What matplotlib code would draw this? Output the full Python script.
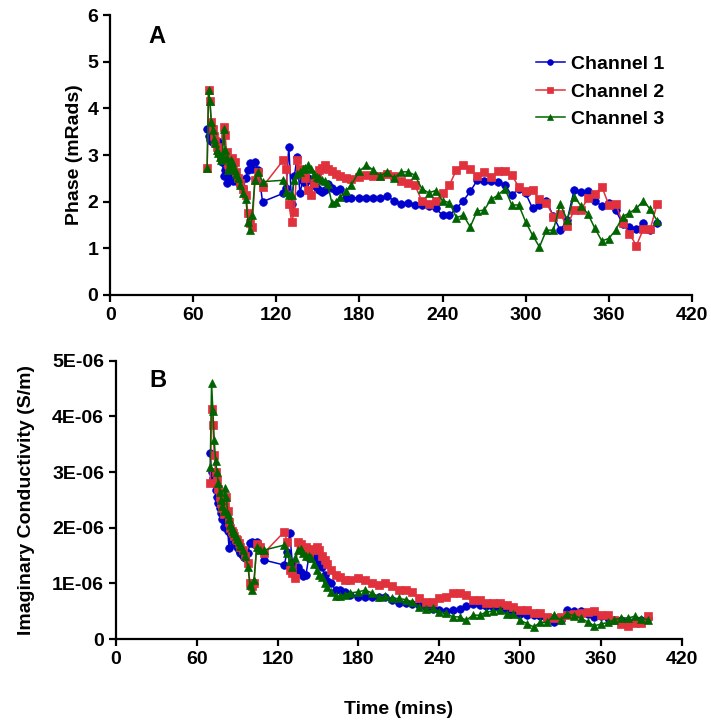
import matplotlib
matplotlib.use('Agg')
import matplotlib.pyplot as plt
import numpy as np
from matplotlib.ticker import FuncFormatter

plt.rcParams['font.family'] = ['Liberation Sans', 'DejaVu Sans']
plt.rcParams['font.weight'] = 'bold'

# sample times (mins): early burst, mid section, then every ~5 min
time_early = [70, 71, 72, 73, 74, 75, 76, 77, 78, 79, 80, 81, 82, 83, 84, 85,
              86, 87, 88, 89, 90, 91, 92, 94, 96, 98, 99.5, 101, 102.5, 104.5, 107, 110]
time_mid = [125, 127, 129, 131, 133, 135, 137, 139, 141, 143, 145, 147, 149, 151,
            153, 155, 157, 160, 163, 166, 170, 174]
time_late = [180, 185, 190, 195, 200, 205, 210, 215, 220, 225, 230, 235, 240, 245,
             250, 255, 260, 265, 270, 275, 280, 285, 290, 295, 300, 305, 310, 315,
             320, 325, 330, 335, 340, 345, 350, 355, 360, 365, 370, 375, 380, 385,
             390, 395]
time_min = time_early + time_mid + time_late

# Panel A: phase (mRads)
phase_ch1 = [3.55, 3.40, 3.32, 3.30, 3.28, 3.25, 3.28, 3.20, 3.05, 3.28, 2.95, 2.85,
             2.55, 2.68, 2.40, 2.68, 2.46, 2.55, 2.50, 2.45, 2.50, 2.50, 2.42, 2.39,
             2.30, 2.50, 2.68, 2.82, 2.70, 2.85, 2.68, 2.00,
             2.18, 2.30, 3.18, 1.96, 2.55, 2.96, 2.18, 2.45, 2.40, 2.50, 2.46, 2.35,
             2.30, 2.25, 2.21, 2.25, 2.39, 2.30, 2.23, 2.27, 2.07, 2.08,
             2.09, 2.09, 2.09, 2.09, 2.12, 2.02, 1.96, 1.98, 1.93, 1.93, 1.90, 1.86,
             1.71, 1.71, 1.86, 2.02, 2.22, 2.46, 2.44, 2.44, 2.43, 2.36, 2.14, 2.28,
             2.18, 1.86, 1.94, 2.02, 1.69, 1.39, 1.60, 2.25, 2.20, 2.22, 2.02, 1.91,
             1.98, 1.82, 1.53, 1.45, 1.41, 1.55, 1.39, 1.55]
phase_ch2 = [2.73, 4.39, 4.16, 3.71, 3.55, 3.40, 3.30, 3.18, 3.10, 3.07, 2.96, 3.05,
             3.60, 3.44, 3.07, 2.80, 2.71, 2.89, 2.93, 2.80, 2.85, 2.64, 2.50, 2.40,
             2.28, 2.14, 1.75, 1.54, 1.45, 2.46, 2.64, 2.32,
             2.89, 2.71, 1.96, 1.57, 1.78, 2.89, 2.70, 2.60, 2.50, 2.25, 2.14, 2.40,
             2.55, 2.68, 2.72, 2.78, 2.70, 2.65, 2.60, 2.55, 2.50, 2.48,
             2.53, 2.57, 2.55, 2.55, 2.60, 2.55, 2.45, 2.41, 2.36, 2.02, 1.96, 2.02,
             2.18, 2.36, 2.68, 2.78, 2.70, 2.55, 2.64, 2.52, 2.66, 2.66, 2.57, 2.32,
             2.22, 2.25, 2.05, 1.98, 1.68, 1.73, 1.48, 1.82, 1.83, 2.07, 2.16, 2.32,
             1.94, 1.96, 1.55, 1.31, 1.06, 1.41, 1.41, 1.96]
phase_ch3 = [2.73, 4.39, 4.16, 3.71, 3.53, 3.35, 3.25, 3.10, 3.05, 2.96, 2.90, 3.00,
             3.57, 3.10, 2.93, 2.68, 2.75, 2.89, 2.85, 2.75, 2.68, 2.60, 2.50, 2.35,
             2.18, 2.05, 1.57, 1.39, 1.71, 2.46, 2.64, 2.43,
             2.46, 2.21, 2.14, 2.15, 2.46, 2.60, 2.64, 2.70, 2.72, 2.78, 2.70, 2.60,
             2.53, 2.50, 2.46, 2.45, 2.39, 1.98, 2.00, 2.10, 2.22, 2.36,
             2.66, 2.78, 2.68, 2.55, 2.64, 2.50, 2.64, 2.64, 2.57, 2.28, 2.19, 2.24,
             2.02, 1.98, 1.66, 1.71, 1.46, 1.80, 1.82, 2.05, 2.14, 2.28, 1.93, 1.93,
             1.57, 1.28, 1.03, 1.39, 1.39, 1.95, 1.61, 2.11, 1.91, 1.74, 1.43, 1.16,
             1.21, 1.39, 1.68, 1.76, 1.86, 2.02, 1.84, 1.59]

# Panel B: imaginary conductivity (x 1E-06 S/m)
cond_ch1 = [3.34, 3.00, 2.90, 2.80, 2.68, 2.55, 2.44, 2.35, 2.26, 2.15, 2.02, 2.10,
            2.05, 1.95, 1.63, 1.90, 1.85, 1.78, 1.72, 1.70, 1.65, 1.60, 1.55, 1.50,
            1.45, 1.55, 1.72, 1.75, 1.70, 1.75, 1.65, 1.42,
            1.33, 1.57, 1.90, 1.36, 1.24, 1.30, 1.20, 1.13, 1.15, 1.45, 1.51, 1.52,
            1.45, 1.36, 1.30, 1.15, 1.05, 1.00, 0.88, 0.88, 0.85, 0.80,
            0.76, 0.75, 0.75, 0.76, 0.76, 0.70, 0.65, 0.65, 0.63, 0.61, 0.58, 0.55,
            0.52, 0.50, 0.53, 0.55, 0.59, 0.63, 0.61, 0.59, 0.58, 0.55, 0.52, 0.47,
            0.45, 0.43, 0.43, 0.42, 0.37, 0.31, 0.35, 0.52, 0.50, 0.50, 0.46, 0.40,
            0.41, 0.38, 0.35, 0.34, 0.32, 0.32, 0.35, 0.38]
cond_ch2 = [2.81, 4.13, 3.85, 3.30, 3.00, 2.85, 2.70, 2.55, 2.45, 2.35, 2.25, 2.40,
            2.55, 2.30, 2.10, 2.00, 1.95, 1.90, 1.85, 1.80, 1.78, 1.72, 1.65, 1.60,
            1.50, 1.36, 1.00, 0.95, 1.00, 1.70, 1.65, 1.55,
            1.93, 1.75, 1.25, 1.18, 1.09, 1.75, 1.70, 1.60, 1.65, 1.55, 1.60, 1.62,
            1.65, 1.60, 1.50, 1.42, 1.35, 1.24, 1.15, 1.12, 1.07, 1.07,
            1.09, 1.06, 1.01, 0.97, 1.00, 0.95, 0.89, 0.88, 0.85, 0.73, 0.67, 0.67,
            0.73, 0.75, 0.82, 0.82, 0.79, 0.71, 0.71, 0.65, 0.65, 0.65, 0.61, 0.58,
            0.53, 0.52, 0.47, 0.47, 0.40, 0.38, 0.39, 0.43, 0.46, 0.47, 0.49, 0.50,
            0.43, 0.43, 0.35, 0.27, 0.23, 0.29, 0.29, 0.41]
cond_ch3 = [3.10, 4.60, 4.10, 3.58, 3.20, 3.00, 2.80, 2.65, 2.50, 2.40, 2.30, 2.71,
            2.55, 2.25, 2.15, 2.05, 2.00, 1.95, 1.90, 1.85, 1.80, 1.75, 1.68, 1.60,
            1.50, 1.30, 0.97, 0.88, 1.06, 1.65, 1.60, 1.60,
            1.69, 1.55, 1.40, 1.30, 1.45, 1.60, 1.62, 1.55, 1.50, 1.50, 1.45, 1.35,
            1.25, 1.15, 1.12, 1.00, 0.94, 0.85, 0.77, 0.77, 0.80, 0.83,
            0.85, 0.88, 0.83, 0.76, 0.77, 0.73, 0.73, 0.71, 0.67, 0.58, 0.55, 0.56,
            0.49, 0.47, 0.40, 0.40, 0.34, 0.43, 0.43, 0.49, 0.50, 0.52, 0.45, 0.45,
            0.34, 0.28, 0.22, 0.30, 0.30, 0.43, 0.35, 0.46, 0.42, 0.38, 0.31, 0.24,
            0.27, 0.30, 0.35, 0.38, 0.38, 0.41, 0.37, 0.35]

labels = ['Channel 1', 'Channel 2', 'Channel 3']
colors = ['#0000cc', '#e0313c', '#006400']
markers = ['o', 's', '^']

t = np.array(time_min)
fig = plt.figure(figsize=(7.11, 7.23), dpi=100)
axA = fig.add_axes([0.155, 0.592, 0.818, 0.387])
axB = fig.add_axes([0.163, 0.116, 0.796, 0.385])

for ax, series, scale in [(axA, [phase_ch1, phase_ch2, phase_ch3], 1.0),
                          (axB, [cond_ch1, cond_ch2, cond_ch3], 1e-6)]:
    for vals, lab, c, m in zip(series, labels, colors, markers):
        ax.plot(t, np.array(vals) * scale, color=c, marker=m, markersize=5.5,
                markeredgewidth=0.5, linewidth=1.1, label=lab)
    ax.spines['top'].set_visible(False)
    ax.spines['right'].set_visible(False)
    for s in ['left', 'bottom']:
        ax.spines[s].set_linewidth(1.6)
    ax.tick_params(direction='out', length=5, width=1.6, labelsize=14)
    ax.set_xlim(0, 420)
    ax.set_xticks(range(0, 421, 60))
    for lbl in ax.get_xticklabels() + ax.get_yticklabels():
        lbl.set_fontweight('bold')

axA.set_ylim(0, 6)
axA.set_yticks(range(0, 7))
axA.set_ylabel('Phase (mRads)', fontsize=14, fontweight='bold', labelpad=3)
axA.text(0.065, 0.925, 'A', transform=axA.transAxes, fontsize=17,
         fontweight='bold', ha='left', va='center')
leg = axA.legend(loc='upper left', bbox_to_anchor=(0.715, 0.89), frameon=False,
                 fontsize=14, handlelength=1.5, handletextpad=0.3,
                 labelspacing=0.5, markerscale=0.75, borderpad=0)
for txt in leg.get_texts():
    txt.set_fontweight('bold')

axB.set_ylim(0, 5e-6)
axB.set_yticks(np.arange(0, 5.01e-6, 1e-6))
axB.yaxis.set_major_formatter(FuncFormatter(
    lambda v, p: '0' if abs(v) < 1e-12 else f'{v:.0E}'))
axB.set_ylabel('Imaginary Conductivity (S/m)', fontsize=14, fontweight='bold',
               labelpad=12)
axB.set_xlabel('Time (mins)', fontsize=14, fontweight='bold', labelpad=24)
axB.text(0.06, 0.93, 'B', transform=axB.transAxes, fontsize=17,
         fontweight='bold', ha='left', va='center')

fig.savefig('out.png', dpi=100)
